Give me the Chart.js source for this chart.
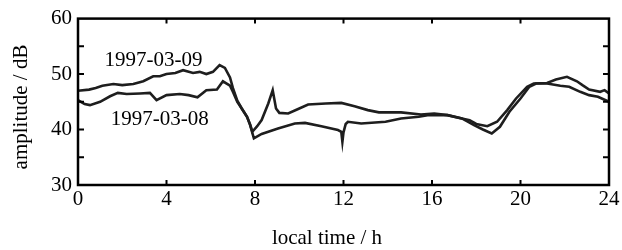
<!DOCTYPE html>
<html>
<head>
<meta charset="utf-8">
<script src="https://cdn.jsdelivr.net/npm/chart.js@4/dist/chart.umd.min.js"></script>
<style>
html,body{margin:0;padding:0;background:#fff;}
#wrap{width:622px;height:250px;position:relative;}
</style>
</head>
<body>
<div id="wrap"><canvas id="c"></canvas></div>
<script>
// 1997-03-09 (upper curve in the morning)
const hours09=[0,0.5,0.8,1.1,1.6,2.0,2.5,2.95,3.4,3.7,4.0,4.4,4.75,5.2,5.5,5.8,6.1,6.4,6.64,6.87,7.0,7.2,7.4,7.64,7.78,7.88,8.1,8.3,8.6,8.8,8.95,9.1,9.5,9.9,10.4,11.2,11.9,12.5,13.1,13.6,14.6,15.5,16.1,16.7,17.35,17.7,18.0,18.5,18.94,19.4,19.8,20.3,20.6,21.2,21.6,22.1,22.55,22.8,23.1,23.6,23.8,24];
const amp09=[47.0,47.2,47.5,47.9,48.2,48.0,48.2,48.7,49.6,49.6,50.0,50.2,50.7,50.2,50.4,50.0,50.4,51.6,51.1,49.4,47.5,45.2,43.8,42.3,40.9,39.6,40.6,41.7,44.7,47.1,43.8,43.0,42.9,43.6,44.5,44.7,44.8,44.2,43.5,43.1,43.1,42.7,42.9,42.6,42.0,41.7,41.0,40.6,41.4,43.5,45.6,47.7,48.3,48.4,49.0,49.5,48.7,48.0,47.2,46.8,47.1,46.5];

// 1997-03-08 (lower curve in the morning)
const hours08=[0,0.3,0.54,1.0,1.45,1.8,2.2,2.8,3.25,3.55,4.0,4.6,5.0,5.4,5.8,6.28,6.55,6.87,7.0,7.2,7.4,7.64,7.78,7.95,8.3,9.04,9.8,10.26,11.0,11.75,11.9,11.95,12.0,12.1,12.2,12.8,13.9,14.6,15.4,15.8,16.7,17.35,17.9,18.3,18.7,19.07,19.5,20.0,20.4,20.7,21.2,21.8,22.2,22.7,23.1,23.5,24];
const amp08=[45.3,44.6,44.4,45.0,46.0,46.6,46.4,46.5,46.6,45.3,46.2,46.4,46.2,45.8,47.1,47.2,48.7,47.9,46.8,45.0,43.8,42.3,40.8,38.4,39.2,40.2,41.1,41.2,40.6,39.9,39.6,37.8,39.5,41.0,41.4,41.1,41.4,42.0,42.3,42.6,42.6,42.0,40.8,40.0,39.3,40.5,43.2,45.6,47.7,48.3,48.3,47.9,47.7,46.8,46.2,45.9,45.0];

const xTicks=[0,4,8,12,16,20,24];
const yTicks=[30,40,50,60];
const yMinor=[35,45,55];
const seriesNames=['1997-03-09','1997-03-08'];
// label anchors in data units [hour, dB]
const labelPos=[[3.41,52.45],[3.7,41.8]];

const FONT="'Liberation Serif','Times New Roman',serif";

function pts(xs,ys){return xs.map((x,i)=>({x,y:ys[i]}));}

const frame={
  id:'frame',
  afterDraw(chart){
    const {ctx,chartArea:a,scales:{x,y}}=chart;
    ctx.save();
    ctx.strokeStyle='#000';
    ctx.lineWidth=2.5;
    ctx.strokeRect(a.left,a.top,a.right-a.left,a.bottom-a.top);
    ctx.lineWidth=2;
    ctx.beginPath();
    xTicks.slice(1,-1).forEach(v=>{
      const px=x.getPixelForValue(v);
      ctx.moveTo(px,a.bottom);ctx.lineTo(px,a.bottom-5);
      ctx.moveTo(px,a.top);ctx.lineTo(px,a.top+5);
    });
    yTicks.slice(1,-1).concat(yMinor).forEach(v=>{
      const py=y.getPixelForValue(v);
      ctx.moveTo(a.left,py);ctx.lineTo(a.left+6,py);
      ctx.moveTo(a.right,py);ctx.lineTo(a.right-6,py);
    });
    ctx.stroke();

    ctx.fillStyle='#000';
    ctx.font='21px '+FONT;
    ctx.textAlign='center';
    ctx.textBaseline='middle';
    seriesNames.forEach((n,i)=>{
      ctx.fillText(n,x.getPixelForValue(labelPos[i][0]),y.getPixelForValue(labelPos[i][1]));
    });
    // axis titles
    ctx.fillText('local time / h',327,238);
    ctx.translate(21,107);
    ctx.rotate(-Math.PI/2);
    ctx.fillText('amplitude / dB',0,0);
    ctx.restore();
  }
};

new Chart(document.getElementById('c'),{
  type:'line',
  data:{datasets:[
    {label:seriesNames[0],data:pts(hours09,amp09)},
    {label:seriesNames[1],data:pts(hours08,amp08)}
  ]},
  options:{
    responsive:true,
    maintainAspectRatio:false,
    animation:false,
    parsing:false,
    layout:{padding:{top:18,right:13,left:0,bottom:0}},
    elements:{
      line:{borderColor:'#1e1e1e',borderWidth:2.6,tension:0,fill:false},
      point:{radius:0}
    },
    plugins:{legend:{display:false},tooltip:{enabled:false}},
    scales:{
      x:{
        type:'linear',min:0,max:24,
        afterBuildTicks(s){s.ticks=xTicks.map(v=>({value:v}));},
        afterFit(s){s.height=65;},
        grid:{display:false,drawTicks:false},
        border:{display:false},
        ticks:{color:'#000',font:{family:FONT,size:21},padding:2,maxRotation:0,autoSkip:false}
      },
      y:{
        type:'linear',min:30,max:60,
        afterBuildTicks(s){s.ticks=yTicks.map(v=>({value:v}));},
        afterFit(s){s.width=78;},
        grid:{display:false,drawTicks:false},
        border:{display:false},
        ticks:{color:'#000',font:{family:FONT,size:21},padding:6}
      }
    }
  },
  plugins:[frame]
});
</script>
</body>
</html>
